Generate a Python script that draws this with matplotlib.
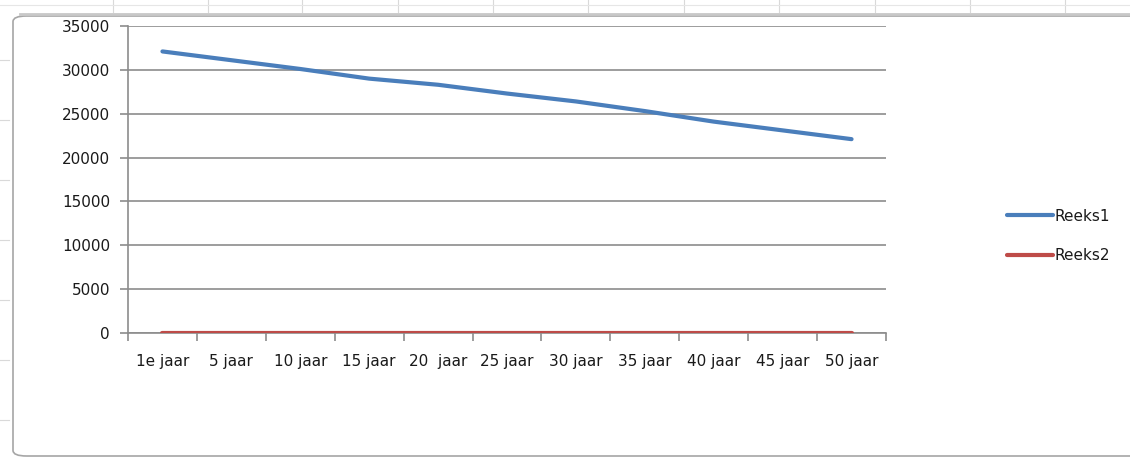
import matplotlib
matplotlib.use("Agg")
import matplotlib.pyplot as plt
from matplotlib.patches import FancyBboxPatch
from matplotlib.lines import Line2D

categories = ["1e jaar", "5 jaar", "10 jaar", "15 jaar", "20  jaar", "25 jaar",
              "30 jaar", "35 jaar", "40 jaar", "45 jaar", "50 jaar"]
reeks1 = [32100, 31100, 30100, 29000, 28300, 27300, 26400, 25300, 24100, 23100, 22100]
reeks2 = [0, 0, 0, 0, 0, 0, 0, 0, 0, 0, 0]
yticks = [0, 5000, 10000, 15000, 20000, 25000, 30000, 35000]

plt.rcParams['font.family'] = ['DejaVu Sans']
W, H = 1130, 458
fig = plt.figure(figsize=(W / 100, H / 100), dpi=100)
fig.patch.set_facecolor("white")
TXT = "#1a1a1a"
FS = 11

# spreadsheet background hints
for xv in [113, 208, 302, 398, 493, 588, 684, 779, 875, 970, 1065]:
    fig.add_artist(Line2D([xv / W, xv / W], [1 - 0 / H, 1 - 12 / H], color="#d9d9d9", lw=0.8))
fig.add_artist(Line2D([0, 1], [1 - 5 / H, 1 - 5 / H], color="#e6e6e6", lw=0.8))
for yv in [60, 120, 180, 240, 300, 360, 420]:
    fig.add_artist(Line2D([0, 9 / W], [1 - yv / H, 1 - yv / H], color="#d9d9d9", lw=0.8))

# chart frame
frame = FancyBboxPatch((13 / W, 2 / H), (W + 20) / W, (H - 18) / H,
                       boxstyle="round,pad=0,rounding_size=0.012",
                       transform=fig.transFigure, facecolor="white",
                       edgecolor="#a6a6a6", lw=1.2, zorder=0)
fig.add_artist(frame)
fig.add_artist(Line2D([20 / W, 1], [1 - 14 / H, 1 - 14 / H], color="#c8c8c8", lw=2.0))

left, right, top, bottom = 128 / W, 886 / W, 1 - 26 / H, 1 - 333 / H
ax = fig.add_axes([left, bottom, right - left, top - bottom])
ax.set_facecolor("none")

x = list(range(len(categories)))
l1, = ax.plot(x, reeks1, color="#4a7ebb", lw=3.0, solid_capstyle="round", label="Reeks1", zorder=3)
l2, = ax.plot(x, reeks2, color="#be4b48", lw=3.0, solid_capstyle="round", label="Reeks2", zorder=3)

ax.set_xlim(-0.5, len(categories) - 0.5)
ax.set_ylim(0, 35000)
ax.set_yticks(yticks)
ax.set_yticklabels([str(v) for v in yticks], fontsize=FS, color=TXT)
ax.yaxis.grid(True, color="#8c8c8c", lw=1.2)
ax.set_axisbelow(True)

ax.set_xticks([i - 0.5 for i in range(len(categories) + 1)])
ax.set_xticklabels([])
ax.set_xticks(x, minor=True)
ax.set_xticklabels(categories, minor=True, fontsize=FS, color=TXT)
ax.tick_params(axis="x", which="minor", length=0, pad=15)
ax.tick_params(axis="x", which="major", length=6, color="#8c8c8c", width=1.2)
ax.tick_params(axis="y", length=6, color="#8c8c8c", width=1.2, pad=7)

for s in ["top", "right"]:
    ax.spines[s].set_visible(False)
ax.spines["left"].set_color("#8c8c8c")
ax.spines["left"].set_linewidth(1.2)
ax.spines["bottom"].set_color("#8c8c8c")
ax.spines["bottom"].set_linewidth(1.2)

leg = fig.legend(handles=[l1, l2], loc="center left", bbox_to_anchor=(993 / W, 1 - 236 / H),
                 frameon=False, fontsize=FS, handlelength=3.0, handletextpad=0.1,
                 labelspacing=1.6)
for t in leg.get_texts():
    t.set_color(TXT)

fig.savefig("out.png", dpi=100)
